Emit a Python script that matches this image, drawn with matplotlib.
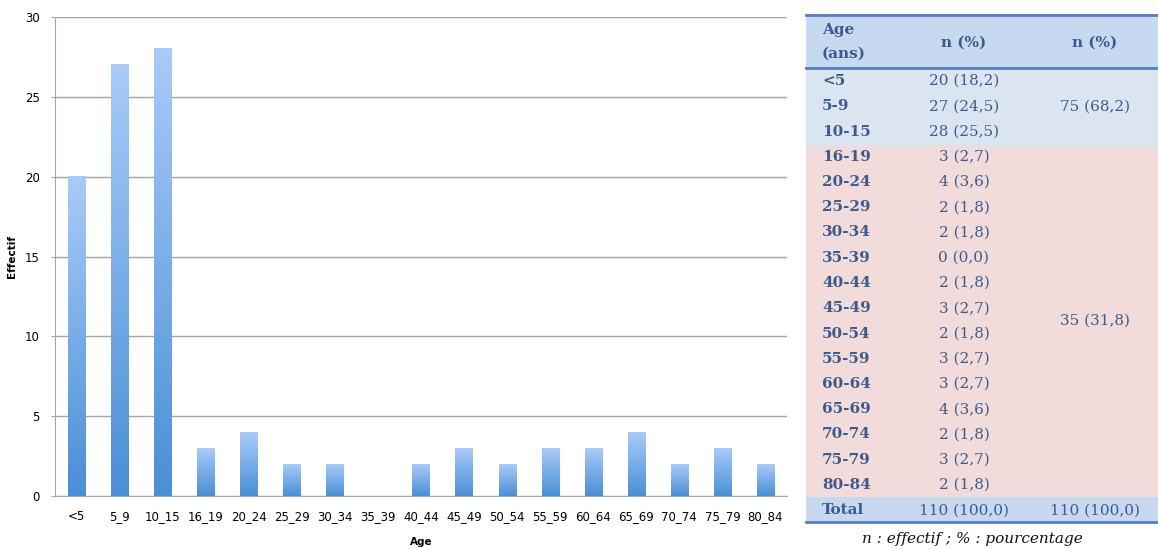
import numpy as np
import matplotlib.pyplot as plt
from matplotlib.colors import LinearSegmentedColormap
from matplotlib.patches import Rectangle
from matplotlib.lines import Line2D

# data
age_groups = ['<5', '5_9', '10_15', '16_19', '20_24', '25_29', '30_34', '35_39', '40_44',
              '45_49', '50_54', '55_59', '60_64', '65_69', '70_74', '75_79', '80_84']
counts = [20, 27, 28, 3, 4, 2, 2, 0, 2, 3, 2, 3, 3, 4, 2, 3, 2]

table_ages = ['<5', '5-9', '10-15', '16-19', '20-24', '25-29', '30-34', '35-39', '40-44',
              '45-49', '50-54', '55-59', '60-64', '65-69', '70-74', '75-79', '80-84']
table_pct = ['18,2', '24,5', '25,5', '2,7', '3,6', '1,8', '1,8', '0,0', '1,8',
             '2,7', '1,8', '2,7', '2,7', '3,6', '1,8', '2,7', '1,8']
group_labels = ['75 (68,2)', '35 (31,8)']
total_label = '110 (100,0)'

W, H = 1158, 549
fig = plt.figure(figsize=(W / 100, H / 100), dpi=100)

# ---------- bar chart ----------
ax = fig.add_axes([55 / W, 1 - 496 / H, (787 - 55) / W, (496 - 17) / H])
grad_cmap = LinearSegmentedColormap.from_list('bar', ['#4a8fd5', '#a9cbf9'])
grad = np.linspace(0, 1, 256).reshape(-1, 1)
bw = 0.4
x = np.arange(len(age_groups))
for xi, c in zip(x, counts):
    if c > 0:
        ax.imshow(grad, extent=[xi - bw / 2, xi + bw / 2, 0, c], origin='lower',
                  aspect='auto', cmap=grad_cmap, zorder=3, interpolation='bilinear')

ax.set_xlim(-0.5, len(age_groups) - 0.5)
ax.set_ylim(0, 30)
ax.set_yticks(range(0, 31, 5))
ax.set_xticks(x)
ax.set_xticklabels(age_groups)
ax.yaxis.grid(True, color='#a6a6a6', linewidth=1)
ax.set_axisbelow(True)
for s in ['top', 'right']:
    ax.spines[s].set_visible(False)
ax.spines['left'].set_color('#a6a6a6')
ax.spines['bottom'].set_color('#a6a6a6')
ax.tick_params(axis='y', length=3, color='#a6a6a6', labelsize=8.5, pad=8)
ax.tick_params(axis='x', length=0, labelsize=8.5, pad=10)
ax.set_xlabel('Age', fontsize=7.5, fontweight='bold', labelpad=10)
ax.set_ylabel('Effectif', fontsize=7.5, fontweight='bold')
ax.yaxis.set_label_coords(-38 / 732, 0.5)

# ---------- table ----------
tc = '#3c5a8c'
border = '#4f81bd'
fam = 'DejaVu Serif'


def fy(py):
    return 1 - py / H


def fx(px):
    return px / W


def band(y0, y1, color):
    fig.patches.append(Rectangle((fx(806), fy(y1)), fx(W) - fx(806), fy(y0) - fy(y1),
                                 transform=fig.transFigure, facecolor=color,
                                 edgecolor='none', zorder=0))


band(15, 68, '#c6d9f1')
band(68, 146, '#dbe5f1')
band(146, 497, '#f2dcdb')
band(497, 522, '#c6d9f1')
for yy, lw in [(15, 2.0), (68, 2.0), (522, 2.0)]:
    fig.lines.append(Line2D([fx(806), 1], [fy(yy), fy(yy)], transform=fig.transFigure,
                            color=border, linewidth=lw))

col1, col2, col3 = 822, 964, 1095
fig.text(fx(col1), fy(30), 'Age', color=tc, fontsize=11, fontweight='bold',
         family=fam, va='center', ha='left')
fig.text(fx(col1), fy(54), '(ans)', color=tc, fontsize=11, fontweight='bold',
         family=fam, va='center', ha='left')
fig.text(fx(col2), fy(43), 'n (%)', color=tc, fontsize=11, fontweight='bold',
         family=fam, va='center', ha='center')
fig.text(fx(col3), fy(43), 'n (%)', color=tc, fontsize=11, fontweight='bold',
         family=fam, va='center', ha='center')

row0, step = 81, 25.25
for i, (a, c, p) in enumerate(zip(table_ages, counts, table_pct)):
    yy = row0 + i * step
    fig.text(fx(col1), fy(yy), a, color=tc, fontsize=11, fontweight='bold',
             family=fam, va='center', ha='left')
    fig.text(fx(col2), fy(yy), f'{c} ({p})', color=tc, fontsize=11,
             family=fam, va='center', ha='center')

fig.text(fx(col3), fy(row0 + step), group_labels[0], color=tc, fontsize=11,
         family=fam, va='center', ha='center')
fig.text(fx(col3), fy(row0 + 9.5 * step), group_labels[1], color=tc, fontsize=11,
         family=fam, va='center', ha='center')

ty = row0 + len(table_ages) * step
fig.text(fx(col1), fy(ty), 'Total', color=tc, fontsize=11, fontweight='bold',
         family=fam, va='center', ha='left')
fig.text(fx(col2), fy(ty), total_label, color=tc, fontsize=11,
         family=fam, va='center', ha='center')
fig.text(fx(col3), fy(ty), total_label, color=tc, fontsize=11,
         family=fam, va='center', ha='center')

fig.text(fx(972), fy(539), 'n : effectif ; % : pourcentage', color='#111111',
         fontsize=11, style='italic', family=fam, va='center', ha='center')

fig.savefig('out.png', dpi=100)
